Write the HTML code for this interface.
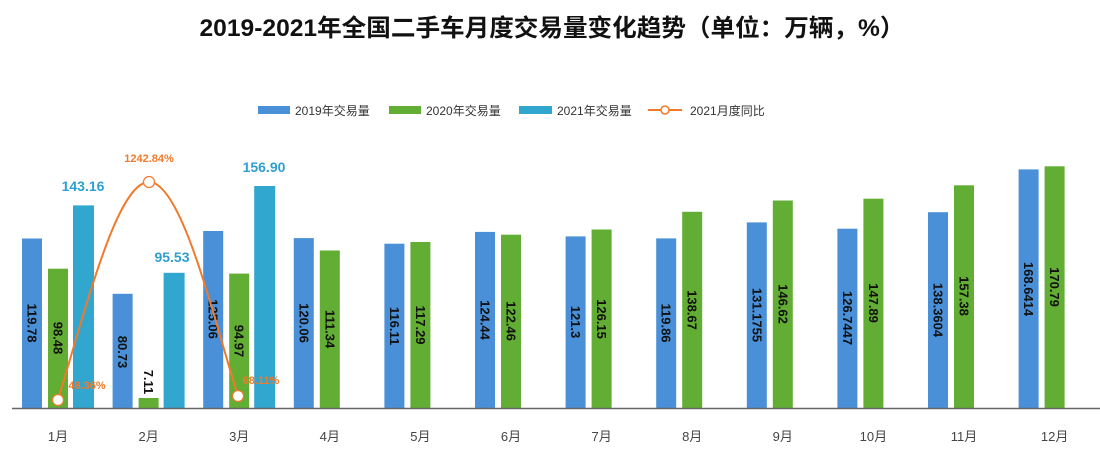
<!DOCTYPE html>
<html><head><meta charset="utf-8"><style>
html,body{margin:0;padding:0;background:#fff;}
svg{display:block;font-family:"Liberation Sans","Noto Sans CJK SC",sans-serif;}
.v{font-size:13px;font-weight:bold;fill:#111;text-anchor:middle;dominant-baseline:central;}
.x{font-size:13px;fill:#444;text-anchor:middle;}
</style></head><body>
<svg width="1100" height="456" viewBox="0 0 1100 456">
<text x="552" y="36" font-size="24" font-weight="bold" fill="#111" text-anchor="middle" textLength="705" lengthAdjust="spacingAndGlyphs">2019-2021年全国二手车月度交易量变化趋势（单位：万辆，%）</text>
<g font-size="12" fill="#333">
<rect x="258" y="106" width="32" height="8" fill="#4a90d9"/><text x="295" y="115">2019年交易量</text>
<rect x="389" y="106" width="32" height="8" fill="#62ad33"/><text x="426" y="115">2020年交易量</text>
<rect x="519" y="106" width="33" height="8" fill="#31a6cf"/><text x="557" y="115">2021年交易量</text>
<line x1="648" y1="110" x2="682" y2="110" stroke="#f07a2a" stroke-width="2"/><circle cx="665" cy="110" r="4" fill="#fff" stroke="#f07a2a" stroke-width="1.5"/><text x="690" y="115">2021月度同比</text>
</g>
<g fill="#4a90d9">
<rect x="22" y="238.5" width="20" height="169.5"/>
<rect x="112.6" y="293.8" width="20" height="114.2"/>
<rect x="203.2" y="231" width="20" height="177"/>
<rect x="293.8" y="238.1" width="20" height="169.9"/>
<rect x="384.4" y="243.7" width="20" height="164.3"/>
<rect x="475" y="231.9" width="20" height="176.1"/>
<rect x="565.6" y="236.4" width="20" height="171.6"/>
<rect x="656.2" y="238.4" width="20" height="169.6"/>
<rect x="746.8" y="222.4" width="20" height="185.6"/>
<rect x="837.4" y="228.7" width="20" height="179.3"/>
<rect x="928" y="212.2" width="20" height="195.8"/>
<rect x="1018.6" y="169.4" width="20" height="238.6"/>
</g>
<g fill="#62ad33">
<rect x="48" y="268.7" width="20" height="139.3"/>
<rect x="138.6" y="398" width="20" height="10"/>
<rect x="229.2" y="273.6" width="20" height="134.4"/>
<rect x="319.8" y="250.5" width="20" height="157.5"/>
<rect x="410.4" y="242" width="20" height="166"/>
<rect x="501" y="234.7" width="20" height="173.3"/>
<rect x="591.6" y="229.5" width="20" height="178.5"/>
<rect x="682.2" y="211.8" width="20" height="196.2"/>
<rect x="772.8" y="200.5" width="20" height="207.5"/>
<rect x="863.4" y="198.7" width="20" height="209.3"/>
<rect x="954" y="185.3" width="20" height="222.7"/>
<rect x="1044.6" y="166.3" width="20" height="241.7"/>
</g>
<g fill="#31a6cf">
<rect x="73" y="205.4" width="21" height="202.6"/>
<rect x="163.6" y="272.8" width="21" height="135.2"/>
<rect x="254.2" y="186" width="21" height="222"/>
</g>
<line x1="12" y1="408.5" x2="1100" y2="408.5" stroke="#666" stroke-width="1.5"/>
<g>
<text class="v" transform="translate(32,323) rotate(90)">119.78</text>
<text class="v" transform="translate(122.6,352) rotate(90)">80.73</text>
<text class="v" transform="translate(213.2,319) rotate(90)">125.06</text>
<text class="v" transform="translate(303.8,323) rotate(90)">120.06</text>
<text class="v" transform="translate(394.4,326) rotate(90)">116.11</text>
<text class="v" transform="translate(485,320) rotate(90)">124.44</text>
<text class="v" transform="translate(575.6,322) rotate(90)">121.3</text>
<text class="v" transform="translate(666.2,323) rotate(90)">119.86</text>
<text class="v" transform="translate(756.8,315) rotate(90)">131.1755</text>
<text class="v" transform="translate(847.4,318) rotate(90)">126.7447</text>
<text class="v" transform="translate(938,310) rotate(90)">138.3604</text>
<text class="v" transform="translate(1028.6,289) rotate(90)">168.6414</text>
<text class="v" transform="translate(58,338) rotate(90)">98.48</text>
<text class="v" transform="translate(148.6,382) rotate(90)">7.11</text>
<text class="v" transform="translate(239.2,341) rotate(90)">94.97</text>
<text class="v" transform="translate(329.8,329) rotate(90)">111.34</text>
<text class="v" transform="translate(420.4,325) rotate(90)">117.29</text>
<text class="v" transform="translate(511,321) rotate(90)">122.46</text>
<text class="v" transform="translate(601.6,319) rotate(90)">126.15</text>
<text class="v" transform="translate(692.2,310) rotate(90)">138.67</text>
<text class="v" transform="translate(782.8,304) rotate(90)">146.62</text>
<text class="v" transform="translate(873.4,303) rotate(90)">147.89</text>
<text class="v" transform="translate(964,296) rotate(90)">157.38</text>
<text class="v" transform="translate(1054.6,287) rotate(90)">170.79</text>
</g>
<g font-size="14" font-weight="bold" fill="#2f9fd0" text-anchor="middle">
<text x="83" y="191">143.16</text>
<text x="172" y="262">95.53</text>
<text x="264" y="172">156.90</text>
</g>
<path d="M58,400 C88,300 118,182 149,182 C182,182 214,320 238,396" fill="none" stroke="#f07a2a" stroke-width="2"/>
<circle cx="58" cy="400" r="5.5" fill="#fff" stroke="#f07a2a" stroke-width="1.2"/>
<circle cx="149" cy="182" r="5.5" fill="#fff" stroke="#f07a2a" stroke-width="1.2"/>
<circle cx="238" cy="396" r="5.5" fill="#fff" stroke="#f07a2a" stroke-width="1.2"/>
<g font-size="11" font-weight="bold" fill="#f07a2a" text-anchor="middle">
<text x="149" y="162">1242.84%</text>
<text x="87" y="389">48.36%</text>
<text x="261" y="384">68.11%</text>
</g>
<g class="x">
<text class="x" x="58" y="441">1月</text>
<text class="x" x="148.6" y="441">2月</text>
<text class="x" x="239.2" y="441">3月</text>
<text class="x" x="329.8" y="441">4月</text>
<text class="x" x="420.4" y="441">5月</text>
<text class="x" x="511" y="441">6月</text>
<text class="x" x="601.6" y="441">7月</text>
<text class="x" x="692.2" y="441">8月</text>
<text class="x" x="782.8" y="441">9月</text>
<text class="x" x="873.4" y="441">10月</text>
<text class="x" x="964" y="441">11月</text>
<text class="x" x="1054.6" y="441">12月</text>
</g>
</svg>
</body></html>
